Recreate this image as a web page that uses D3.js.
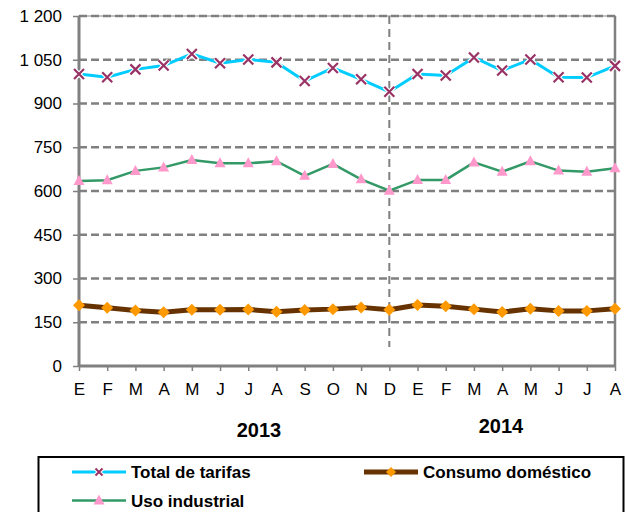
<!DOCTYPE html>
<html><head><meta charset="utf-8">
<script src="https://cdn.jsdelivr.net/npm/d3@7"></script>
<style>body{margin:0;background:#fff}svg{display:block;font-family:"Liberation Sans",Arial,sans-serif}</style>
</head><body><svg id="c" width="626" height="512"></svg>
<script>
const months = ["E","F","M","A","M","J","J","A","S","O","N","D","E","F","M","A","M","J","J","A"];
const years = ["2013","2014"];
const yTicks = [0,150,300,450,600,750,900,1050,1200];
const totalTarifas = [1001,990,1017,1030,1070,1038,1051,1041,977,1022,983,940,1001,996,1058,1013,1051,990,989,1029];
const usoIndustrial = [634,637,669,681,706,695,695,702,652,693,640,601,638,638,698,666,702,670,666,678];
const consumoDomestico = [208,200,190,184,193,193,194,186,192,195,201,193,209,205,195,185,196,189,189,196];

const svg = d3.select("#c");
const L=79, R=615, T=16, B=366;
const x = d3.scalePoint().domain(d3.range(months.length)).range([L,R]).padding(0);
const y = d3.scaleLinear().domain([0,1200]).range([B,T]);
const grey="#808080";

// plot border (light)
svg.append("rect").attr("x",L).attr("y",T).attr("width",R-L).attr("height",B-T)
  .attr("fill","none").attr("stroke","#b0b0b0").attr("stroke-width",1.5);
// gridlines
svg.append("g").selectAll("line").data(yTicks.filter(d=>d>0)).join("line")
  .attr("x1",L).attr("x2",R).attr("y1",d=>y(d)).attr("y2",d=>y(d))
  .attr("stroke",grey).attr("stroke-width",2.5).attr("stroke-dasharray","8,4");
// vertical separator at D
svg.append("line").attr("x1",x(11)).attr("x2",x(11)).attr("y1",T).attr("y2",347)
  .attr("stroke",grey).attr("stroke-width",2).attr("stroke-dasharray","8,5");
// right border
svg.append("line").attr("x1",R).attr("x2",R).attr("y1",T).attr("y2",B).attr("stroke",grey).attr("stroke-width",2.5);

// axes
const yAxis = d3.axisLeft(y).tickValues(yTicks).tickSize(6).tickPadding(11)
  .tickFormat(d=>d>=1000? d3.format(",")(d).replace(","," ") : d);
const gy = svg.append("g").attr("transform",`translate(${L},0)`).call(yAxis);
const xAxis = d3.axisBottom(x).tickSize(5).tickPadding(12).tickFormat(i=>months[i]);
const gx = svg.append("g").attr("transform",`translate(0,${B})`).call(xAxis);
[gy,gx].forEach(g=>{
  g.select(".domain").attr("stroke",grey).attr("stroke-width",3);
  g.selectAll(".tick line").attr("stroke",grey).attr("stroke-width",1.5);
  g.selectAll("text").attr("font-size",17).attr("fill","#000").attr("font-family","Liberation Sans, Arial, sans-serif");
});
gy.select(".domain").attr("d",`M0,${T}V${B}`);
gx.select(".domain").attr("d",`M${L},0H${R}`);

// year labels
svg.append("text").attr("x",259).attr("y",437).attr("text-anchor","middle").attr("font-size",20).attr("font-weight","bold").text(years[0]);
svg.append("text").attr("x",501).attr("y",433).attr("text-anchor","middle").attr("font-size",20).attr("font-weight","bold").text(years[1]);

const line = d3.line().x((d,i)=>x(i)).y(d=>y(d));
// consumo domestico
svg.append("path").datum(consumoDomestico).attr("d",line).attr("fill","none").attr("stroke","#663300").attr("stroke-width",5).attr("stroke-linejoin","round");
svg.append("g").selectAll("path").data(consumoDomestico).join("path")
  .attr("transform",(d,i)=>`translate(${x(i)},${y(d)})`).attr("d","M0,-6L6,0L0,6L-6,0Z").attr("fill","#FF9900");
// uso industrial
svg.append("path").datum(usoIndustrial).attr("d",line).attr("fill","none").attr("stroke","#339966").attr("stroke-width",2.5);
svg.append("g").selectAll("path").data(usoIndustrial).join("path")
  .attr("transform",(d,i)=>`translate(${x(i)},${y(d)})`).attr("d","M0,-6L5.5,4L-5.5,4Z").attr("fill","#FF99CC");
// total tarifas
svg.append("path").datum(totalTarifas).attr("d",line).attr("fill","none").attr("stroke","#00CCFF").attr("stroke-width",3);
const xm = svg.append("g").selectAll("g").data(totalTarifas).join("g").attr("transform",(d,i)=>`translate(${x(i)},${y(d)})`);
xm.append("path").attr("d","M-5,-5L5,5M-5,5L5,-5").attr("stroke","#fff").attr("stroke-width",4.5);
xm.append("path").attr("d","M-5,-5L5,5M-5,5L5,-5").attr("stroke","#993366").attr("stroke-width",2.2);

// legend
const lg = svg.append("g");
lg.append("rect").attr("x",38.5).attr("y",457).attr("width",585).attr("height",70).attr("fill","none").attr("stroke","#000").attr("stroke-width",2);
const items = [
  {name:"Total de tarifas", x:72, y:472, color:"#00CCFF", w:3, marker:"x"},
  {name:"Consumo doméstico", x:364, y:472, color:"#663300", w:5, marker:"d"},
  {name:"Uso industrial", x:72, y:500.5, color:"#339966", w:2.5, marker:"t"}
];
items.forEach(it=>{
  lg.append("line").attr("x1",it.x).attr("x2",it.x+54).attr("y1",it.y).attr("y2",it.y).attr("stroke",it.color).attr("stroke-width",it.w);
  const cx = it.x+27;
  if(it.marker==="x"){
    lg.append("path").attr("d",`M${cx-3.5},${it.y-3.5}L${cx+3.5},${it.y+3.5}M${cx-3.5},${it.y+3.5}L${cx+3.5},${it.y-3.5}`).attr("stroke","#fff").attr("stroke-width",4);
    lg.append("path").attr("d",`M${cx-3.5},${it.y-3.5}L${cx+3.5},${it.y+3.5}M${cx-3.5},${it.y+3.5}L${cx+3.5},${it.y-3.5}`).attr("stroke","#993366").attr("stroke-width",2);
  } else if(it.marker==="d"){
    lg.append("path").attr("d",`M${cx},${it.y-5}L${cx+5},${it.y}L${cx},${it.y+5}L${cx-5},${it.y}Z`).attr("fill","#FF9900");
  } else {
    lg.append("path").attr("d",`M${cx},${it.y-6}L${cx+5.5},${it.y+4}L${cx-5.5},${it.y+4}Z`).attr("fill","#FF99CC");
  }
  lg.append("text").attr("x",it.x+59).attr("y",it.y+6).attr("font-size",17).attr("font-weight","bold").text(it.name);
});
</script></body></html>
